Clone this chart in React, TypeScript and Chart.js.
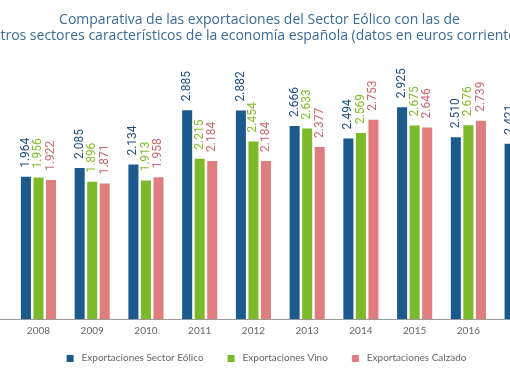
import React, { useEffect, useRef } from "react";
import { Chart, registerables } from "chart.js";

Chart.register(...registerables);

const years = ["2008", "2009", "2010", "2011", "2012", "2013", "2014", "2015", "2016", "2017"];
const eolico = [1964, 2085, 2134, 2885, 2882, 2666, 2494, 2925, 2510, 2421];
const vino = [1956, 1896, 1913, 2215, 2454, 2633, 2569, 2675, 2676, 2850];
const calzado = [1922, 1871, 1958, 2184, 2184, 2377, 2753, 2646, 2739, 2700];
const seriesNames = ["Exportaciones Sector Eólico", "Exportaciones Vino", "Exportaciones Calzado"];
const titleLines = [
  "Comparativa de las exportaciones del Sector Eólico con las de",
  "otros sectores característicos de la economía española (datos en euros corrientes)",
];

const barColors = ["#1c5a8e", "#7cba2a", "#e07d7f"];
const labelColors = ["#1c4f84", "#85bb2e", "#cc6a70"];

function fmt(n: number): string {
  const th = Math.floor(n / 1000);
  const rest = String(n % 1000).padStart(3, "0");
  return th + "." + rest;
}

function makeIcon(color: string): HTMLCanvasElement {
  const c = document.createElement("canvas");
  c.width = 24;
  c.height = 7;
  const g = c.getContext("2d")!;
  g.fillStyle = color;
  g.fillRect(14, 0, 7, 7);
  return c;
}

const valueLabels = {
  id: "valueLabels",
  afterDatasetsDraw(chart: any) {
    const ctx = chart.ctx;
    chart.data.datasets.forEach((ds: any, di: number) => {
      const meta = chart.getDatasetMeta(di);
      meta.data.forEach((el: any, i: number) => {
        const v = ds.data[i];
        ctx.save();
        ctx.translate(el.x, el.y - 9);
        ctx.rotate(-Math.PI / 2);
        ctx.font = "400 12px Roboto";
        ctx.fillStyle = labelColors[di];
        ctx.textAlign = "left";
        ctx.textBaseline = "middle";
        ctx.fillText(fmt(v), 0, 0);
        ctx.restore();
      });
    });
  },
};

const baseLine = {
  id: "baseLine",
  afterDatasetsDraw(chart: any) {
    const ctx = chart.ctx;
    const y = Math.round(chart.scales.y.getPixelForValue(0)) + 0.5;
    ctx.save();
    ctx.strokeStyle = "#9a9a9a";
    ctx.lineWidth = 1;
    ctx.beginPath();
    ctx.moveTo(0, y);
    ctx.lineTo(chart.width, y);
    ctx.stroke();
    ctx.restore();
  },
};

export default function App() {
  const ref = useRef<HTMLCanvasElement | null>(null);
  useEffect(() => {
    if (!ref.current) return;
    const icons = barColors.map(makeIcon);
    const chart = new Chart(ref.current, {
      type: "bar",
      data: {
        labels: years,
        datasets: [eolico, vino, calzado].map((d, i) => ({
          label: seriesNames[i],
          data: d,
          backgroundColor: barColors[i],
          borderWidth: 0,
          categoryPercentage: 0.7,
          barPercentage: 0.8,
        })),
      },
      options: {
        animation: false,
        responsive: true,
        maintainAspectRatio: false,
        layout: { padding: { left: 6, right: 5, top: 0, bottom: 9 } },
        plugins: {
          title: {
            display: true,
            text: titleLines,
            color: "#3b6b96",
            font: { family: "'Open Sans'", size: 14, weight: "normal", lineHeight: 1.15 },
            padding: { top: 12, bottom: 28 },
          },
          legend: {
            position: "bottom",
            labels: {
              usePointStyle: true,
              pointStyleWidth: 24,
              boxHeight: 7,
              padding: 10,
              color: "#666666",
              font: { family: "Lato", size: 10 },
              generateLabels: (c: any) =>
                Chart.defaults.plugins.legend.labels.generateLabels(c).map((l: any, i: number) => ({
                  ...l,
                  pointStyle: icons[i],
                })),
            },
          },
          tooltip: { enabled: false },
        },
        scales: {
          x: {
            grid: { display: false, drawTicks: false },
            border: { display: false },
            ticks: { color: "#666666", font: { family: "Lato", size: 10 }, padding: 6 },
          },
          y: {
            display: true,
            position: "left",
            min: 0,
            max: 3410,
            grid: { display: false, drawTicks: false },
            border: { display: false },
            ticks: { display: false },
            afterFit: (s: any) => {
              s.width = 41.6;
            },
          },
        },
      },
      plugins: [valueLabels, baseLine],
    });
    return () => chart.destroy();
  }, []);
  return (
    <div style={{ position: "fixed", left: 0, top: 0, width: 510, height: 382, overflow: "hidden", background: "#fff" }}>
      <div style={{ position: "absolute", left: -36, top: 0, width: 590, height: 382 }}>
        <canvas ref={ref} />
      </div>
    </div>
  );
}
